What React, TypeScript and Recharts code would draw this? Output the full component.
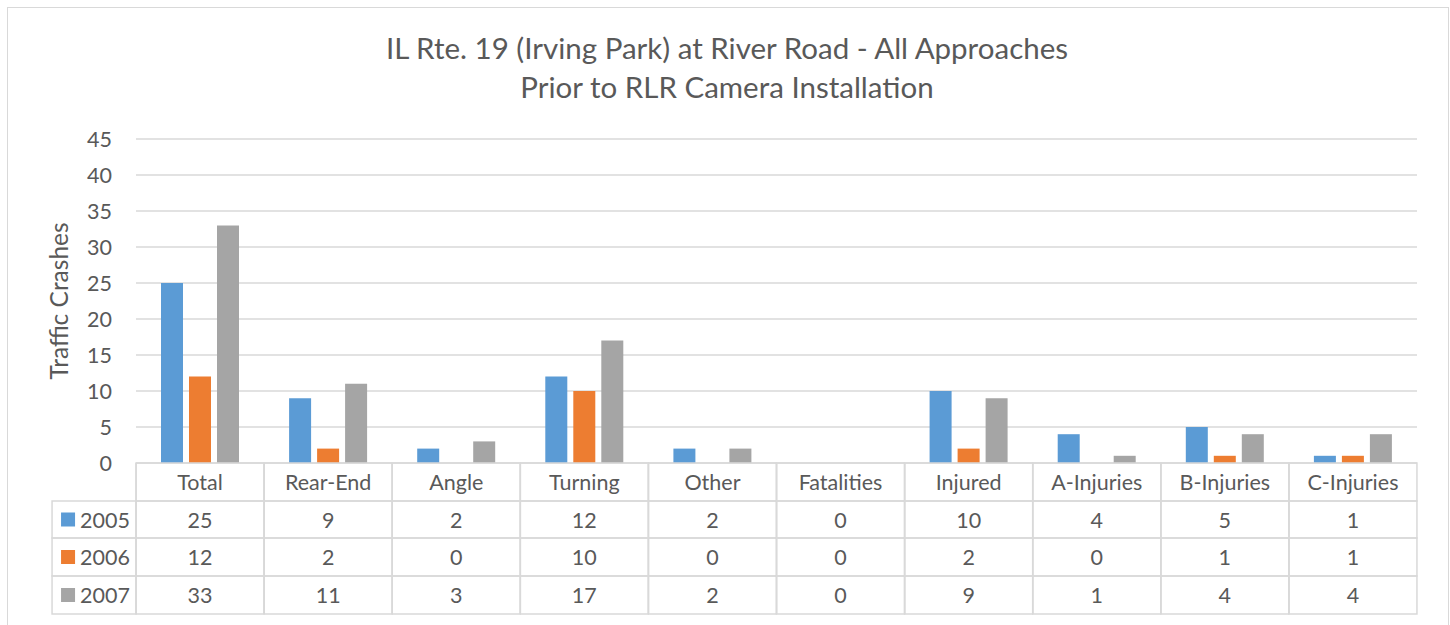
import React from 'react';
import { BarChart, Bar, XAxis, YAxis, CartesianGrid } from 'recharts';

const categories = ['Total', 'Rear-End', 'Angle', 'Turning', 'Other', 'Fatalities', 'Injured', 'A-Injuries', 'B-Injuries', 'C-Injuries'];
const y2005 = [25, 9, 2, 12, 2, 0, 10, 4, 5, 1];
const y2006 = [12, 2, 0, 10, 0, 0, 2, 0, 1, 1];
const y2007 = [33, 11, 3, 17, 2, 0, 9, 1, 4, 4];
const yTicks = [0, 5, 10, 15, 20, 25, 30, 35, 40, 45];

const series = [
  { key: 'y2005', name: '2005', color: '#5B9BD5', values: y2005 },
  { key: 'y2006', name: '2006', color: '#ED7D31', values: y2006 },
  { key: 'y2007', name: '2007', color: '#A5A5A5', values: y2007 },
];

const data = categories.map((name, i) => ({
  name,
  y2005: y2005[i],
  y2006: y2006[i],
  y2007: y2007[i],
}));

const FONT = 'Lato, "Open Sans", sans-serif';
const TEXT = '#595959';
const LINE = '#d9d9d9';
const COL_W = 128;
const ROW_H = [38, 37, 38, 38];
const CELL_FS = 21.5;

// the data table under the plot, one column per category tick
const TableTick = (props: any) => {
  const { x, y, payload } = props;
  const idx = payload.index;
  const left = x - COL_W / 2;
  const rowsTop = [y, y + ROW_H[0], y + ROW_H[0] + ROW_H[1], y + ROW_H[0] + ROW_H[1] + ROW_H[2]];
  const bottom = rowsTop[3] + ROW_H[3];
  return (
    <g>
      {rowsTop.map((t, r) => (
        <rect key={r} x={left} y={t} width={COL_W} height={ROW_H[r]} fill="none" stroke={LINE} strokeWidth={1.5} />
      ))}
      <text x={x} y={rowsTop[0] + ROW_H[0] / 2} textAnchor="middle" dominantBaseline="central" fontSize={CELL_FS} fill={TEXT} fontFamily={FONT}>
        {payload.value}
      </text>
      {series.map((s, r) => (
        <text key={s.key} x={x} y={rowsTop[r + 1] + ROW_H[r + 1] / 2} textAnchor="middle" dominantBaseline="central" fontSize={CELL_FS} fill={TEXT} fontFamily={FONT}>
          {s.values[idx]}
        </text>
      ))}
      {idx === 0 && (
        <g>
          {series.map((s, r) => (
            <g key={s.key}>
              <rect x={left - 84} y={rowsTop[r + 1]} width={84} height={ROW_H[r + 1]} fill="none" stroke={LINE} strokeWidth={1.5} />
              <rect x={left - 75} y={rowsTop[r + 1] + ROW_H[r + 1] / 2 - 7} width={14} height={14} fill={s.color} />
              <text x={left - 56} y={rowsTop[r + 1] + ROW_H[r + 1] / 2} dominantBaseline="central" fontSize={CELL_FS} fill={TEXT} fontFamily={FONT}>
                {s.name}
              </text>
            </g>
          ))}
        </g>
      )}
      <line x1={left} x2={left} y1={y} y2={bottom} stroke={LINE} strokeWidth={1.5} />
    </g>
  );
};

export default function App() {
  return (
    <div style={{ position: 'absolute', left: 0, top: 0, width: 1450, height: 625, overflow: 'hidden', background: '#fff', fontFamily: FONT }}>
      <div style={{ position: 'absolute', left: 7, top: 7, width: 1440, height: 640, border: `1.5px solid ${LINE}` }} />
      <div style={{ position: 'absolute', left: 0, top: 28, width: 1454, textAlign: 'center', fontSize: 29.5, lineHeight: '39px', color: TEXT }}>
        <div>IL Rte. 19 (Irving Park) at River Road - All Approaches</div>
        <div>Prior to RLR Camera Installation</div>
      </div>
      <div
        style={{
          position: 'absolute',
          left: 58,
          top: 301,
          transform: 'translate(-50%, -50%) rotate(-90deg)',
          fontSize: 24.5,
          color: TEXT,
          whiteSpace: 'nowrap',
        }}
      >
        Traffic Crashes
      </div>
      <BarChart
        width={1450}
        height={625}
        data={data}
        margin={{ top: 139, right: 33, bottom: 11, left: 96 }}
        barCategoryGap={25}
        barGap={6}
        style={{ position: 'absolute', left: 0, top: 0 }}
      >
        <CartesianGrid vertical={false} stroke={LINE} strokeWidth={1.5} />
        <XAxis
          dataKey="name"
          axisLine={false}
          tickLine={false}
          tickSize={0}
          tickMargin={0}
          height={151}
          interval={0}
          tick={<TableTick />}
        />
        <YAxis
          domain={[0, 45]}
          ticks={yTicks}
          width={40}
          axisLine={false}
          tickLine={false}
          tickSize={0}
          tickMargin={24}
          tick={{ fontSize: 21.5, fill: TEXT, fontFamily: FONT }}
          interval={0}
        />
        {series.map((s) => (
          <Bar key={s.key} dataKey={s.key} name={s.name} fill={s.color} isAnimationActive={false} />
        ))}
      </BarChart>
    </div>
  );
}
